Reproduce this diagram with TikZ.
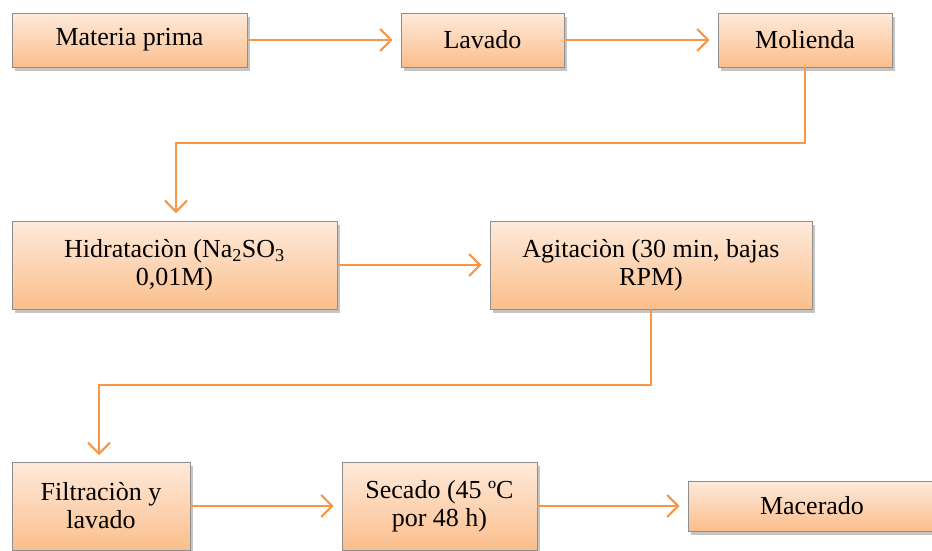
\documentclass[tikz,border=0pt]{standalone}
\usepackage{fontspec}
\setmainfont{Liberation Serif}
\usetikzlibrary{arrows.meta,shadows,calc}
\definecolor{boxtop}{HTML}{FEEADB}
\definecolor{boxbot}{HTML}{FBBE8C}
\definecolor{boxline}{HTML}{8E8E8E}
\definecolor{conncol}{HTML}{F79646}
\tikzset{
  procbox/.style={draw=boxline, line width=0.9pt, top color=boxtop, bottom color=boxbot,
    drop shadow={shadow xshift=3pt, shadow yshift=-4pt, fill=black!45, opacity=0.5},
    font=\fontsize{26pt}{28pt}\selectfont, align=center, inner sep=0pt},
  conn/.style={draw=conncol, line width=2pt, -{Straight Barb[length=11pt,width=22pt,line width=2pt]}}
}
\begin{document}
\begin{tikzpicture}[x=1pt,y=-1pt]
\useasboundingbox (0,0) rectangle (932,550);
\begin{scope}
\clip (0,0) rectangle (932,550);
\node[procbox, minimum width=235pt, minimum height=54pt] (mp) at (129.5,40) {Materia prima};
\node[procbox, minimum width=163pt, minimum height=54pt] (lav) at (482.5,40) {Lavado};
\node[procbox, minimum width=174pt, minimum height=54pt] (mol) at (805,40) {Molienda};
\node[procbox, minimum width=325pt, minimum height=88pt] (hid) at (174.5,265) {Hidrataciòn (Na\textsubscript{2}SO\textsubscript{3}\\0,01M)};
\node[procbox, minimum width=322pt, minimum height=88pt] (agi) at (651,265) {Agitaciòn (30 min, bajas\\RPM)};
\node[procbox, minimum width=178pt, minimum height=88pt] (fil) at (101,506) {Filtraciòn y\\lavado};
\node[procbox, minimum width=195pt, minimum height=88pt] (sec) at (439.5,506) {Secado (45 ºC\\por 48 h)};
\node[procbox, minimum width=248pt, minimum height=50pt] (mac) at (812,506) {Macerado};

\coordinate (e1) at (176,213);
\coordinate (e2) at (99,455);
\draw[conn] (mp.east) -- ([xshift=-8pt]lav.west);
\draw[conn] (lav.east) -- ([xshift=-8pt]mol.west);
\draw[conn] (mol.south) -- (mol.south |- 0,143) -| (e1);
\draw[conn] (hid.east) -- ([xshift=-8pt]agi.west);
\draw[conn] (agi.south) -- (agi.south |- 0,385) -| (e2);
\draw[conn] (fil.east) -- ([xshift=-8pt]sec.west);
\draw[conn] (sec.east) -- ([xshift=-8pt]mac.west);
\end{scope}
\end{tikzpicture}
\end{document}
